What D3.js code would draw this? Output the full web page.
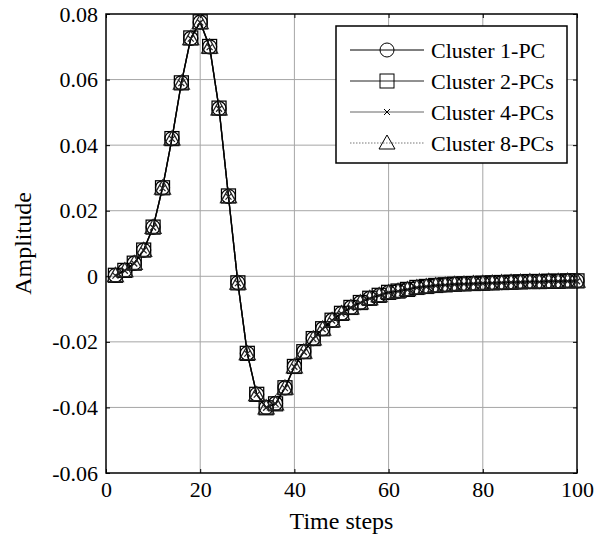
<!DOCTYPE html>
<html>
<head>
<meta charset="utf-8">
<script src="https://cdn.jsdelivr.net/npm/d3@7"></script>
<style>
  body { margin: 0; background: #fff; }
  svg { display: block; font-family: "Liberation Serif", "Times New Roman", serif; }
</style>
</head>
<body>
<div id="chart"></div>
<script>
const width = 608;
const height = 541;
const margin = { top: 14, right: 31, bottom: 68, left: 106 };

const timeSteps = d3.range(2, 101, 2);
const xTicks = [0, 20, 40, 60, 80, 100];
const yTicks = [-0.06, -0.04, -0.02, 0, 0.02, 0.04, 0.06, 0.08];

const cluster1 = [
  0.0003, 0.0018, 0.004, 0.008, 0.015, 0.027, 0.042, 0.059, 0.0726, 0.0775,
  0.070, 0.0512, 0.0244, -0.002, -0.0235, -0.036, -0.040, -0.0388, -0.034, -0.0275,
  -0.023, -0.019, -0.016, -0.0134, -0.0113, -0.0095, -0.008, -0.0067, -0.0058, -0.0049,
  -0.0045, -0.0040, -0.0034, -0.0031, -0.0028, -0.0026, -0.0024, -0.0023, -0.0022, -0.0021,
  -0.0020, -0.0019, -0.0018, -0.0017, -0.0016, -0.0016, -0.0015, -0.0015, -0.0014, -0.0014,
];
const cluster2 = [
  0.0003, 0.0018, 0.004, 0.008, 0.015, 0.027, 0.042, 0.059, 0.0727, 0.0776,
  0.0701, 0.0513, 0.0245, -0.002, -0.0235, -0.036, -0.0401, -0.0389, -0.034, -0.0275,
  -0.023, -0.019, -0.016, -0.0134, -0.0113, -0.0095, -0.008, -0.0067, -0.0058, -0.0049,
  -0.0045, -0.0040, -0.0034, -0.0031, -0.0028, -0.0026, -0.0024, -0.0023, -0.0022, -0.0021,
  -0.0020, -0.0019, -0.0018, -0.0017, -0.0016, -0.0016, -0.0015, -0.0015, -0.0014, -0.0014,
];
const cluster4 = [
  0.0002, 0.0017, 0.0039, 0.0079, 0.0149, 0.0269, 0.0419, 0.0589, 0.0725, 0.0774,
  0.0699, 0.0511, 0.0243, -0.0021, -0.0236, -0.0361, -0.0401, -0.0389, -0.0341, -0.0276,
  -0.0231, -0.0191, -0.0161, -0.0135, -0.0114, -0.0096, -0.0081, -0.0068, -0.0059, -0.0050,
  -0.0046, -0.0041, -0.0035, -0.0032, -0.0029, -0.0027, -0.0025, -0.0024, -0.0023, -0.0022,
  -0.0021, -0.0020, -0.0019, -0.0018, -0.0017, -0.0017, -0.0016, -0.0016, -0.0015, -0.0015,
];
const cluster8 = [
  0.0002, 0.0017, 0.0039, 0.0079, 0.0149, 0.0269, 0.0419, 0.0589, 0.0725, 0.0774,
  0.0699, 0.0511, 0.0243, -0.0021, -0.0236, -0.0361, -0.0401, -0.0389, -0.0341, -0.0276,
  -0.0231, -0.0191, -0.0161, -0.0135, -0.0114, -0.0096, -0.0081, -0.0068, -0.0059, -0.0050,
  -0.0046, -0.0041, -0.0035, -0.0032, -0.0029, -0.0027, -0.0025, -0.0024, -0.0023, -0.0022,
  -0.0021, -0.0020, -0.0019, -0.0018, -0.0017, -0.0017, -0.0016, -0.0016, -0.0015, -0.0015,
];

const seriesNames = ["Cluster 1-PC", "Cluster 2-PCs", "Cluster 4-PCs", "Cluster 8-PCs"];
const seriesValues = [cluster1, cluster2, cluster4, cluster8];
const seriesStyle = [
  { marker: "circle", color: "#000", dash: null },
  { marker: "square", color: "#222", dash: null },
  { marker: "cross", color: "#666", dash: null },
  { marker: "triangle", color: "#777", dash: "1.5,1.5" },
];

const x = d3.scaleLinear().domain([0, 100]).range([margin.left, width - margin.right]);
const y = d3.scaleLinear().domain([-0.06, 0.08]).range([height - margin.bottom, margin.top]);
const fmtY = (d) => (Math.abs(d) < 1e-9 ? "0" : d.toFixed(2));
const fmtX = (d) => String(d);

const svg = d3
  .select("#chart")
  .append("svg")
  .attr("width", width)
  .attr("height", height);

// grid
svg
  .append("g")
  .attr("stroke", "#a6a6a6")
  .attr("stroke-width", 1)
  .selectAll("line")
  .data(xTicks.slice(1, -1))
  .join("line")
  .attr("x1", (d) => x(d))
  .attr("x2", (d) => x(d))
  .attr("y1", y(-0.06))
  .attr("y2", y(0.08));
svg
  .append("g")
  .attr("stroke", "#a6a6a6")
  .attr("stroke-width", 1)
  .selectAll("line")
  .data(yTicks.slice(1, -1))
  .join("line")
  .attr("x1", x(0))
  .attr("x2", x(100))
  .attr("y1", (d) => y(d))
  .attr("y2", (d) => y(d));

// axes with inward ticks
const tickLen = 4;
svg
  .append("g")
  .attr("transform", `translate(0,${y(-0.06)})`)
  .call(d3.axisBottom(x).tickValues(xTicks).tickSize(-tickLen).tickPadding(8).tickFormat(fmtX))
  .call((g) => g.select(".domain").remove())
  .call((g) => g.selectAll("text").attr("font-size", 22).attr("font-family", "Liberation Serif").attr("fill", "#000"));
svg
  .append("g")
  .attr("transform", `translate(${x(0)},0)`)
  .call(d3.axisLeft(y).tickValues(yTicks).tickSize(-tickLen).tickPadding(8).tickFormat(fmtY))
  .call((g) => g.select(".domain").remove())
  .call((g) => g.selectAll("text").attr("font-size", 22).attr("font-family", "Liberation Serif").attr("fill", "#000"));
svg
  .append("g")
  .attr("transform", `translate(0,${y(0.08)})`)
  .call(d3.axisTop(x).tickValues(xTicks).tickSize(-tickLen).tickFormat(""))
  .call((g) => g.select(".domain").remove());
svg
  .append("g")
  .attr("transform", `translate(${x(100)},0)`)
  .call(d3.axisRight(y).tickValues(yTicks).tickSize(-tickLen).tickFormat(""))
  .call((g) => g.select(".domain").remove());

svg
  .append("rect")
  .attr("x", x(0))
  .attr("y", y(0.08))
  .attr("width", x(100) - x(0))
  .attr("height", y(-0.06) - y(0.08))
  .attr("fill", "none")
  .attr("stroke", "#000")
  .attr("stroke-width", 1.5);

function drawMarker(g, type, color, sw) {
  if (type === "circle") {
    g.append("circle").attr("r", 7).attr("fill", "none").attr("stroke", color).attr("stroke-width", sw);
  } else if (type === "square") {
    g.append("rect").attr("x", -7).attr("y", -7).attr("width", 14).attr("height", 14)
      .attr("fill", "none").attr("stroke", color).attr("stroke-width", sw);
  } else if (type === "cross") {
    g.append("path").attr("d", "M-3,-3L3,3M-3,3L3,-3").attr("fill", "none").attr("stroke", color).attr("stroke-width", sw);
  } else if (type === "triangle") {
    g.append("path").attr("d", "M0,-8L8,6L-8,6Z").attr("fill", "none").attr("stroke", color).attr("stroke-width", sw);
  }
}

const line = d3
  .line()
  .x((d, i) => x(timeSteps[i]))
  .y((d) => y(d));

// draw in reverse so Cluster 1-PC sits on top
for (let k = seriesValues.length - 1; k >= 0; k--) {
  const st = seriesStyle[k];
  svg
    .append("path")
    .datum(seriesValues[k])
    .attr("d", line)
    .attr("fill", "none")
    .attr("stroke", st.color)
    .attr("stroke-width", 1.3)
    .attr("stroke-dasharray", st.dash);
}
seriesValues.forEach((vals, k) => {
  const st = seriesStyle[k];
  svg
    .append("g")
    .selectAll("g")
    .data(vals)
    .join("g")
    .attr("transform", (d, i) => `translate(${x(timeSteps[i])},${y(d)})`)
    .each(function () {
      drawMarker(d3.select(this), st.marker, k < 2 ? "#000" : "#222", 1.25);
    });
});

// legend
const legend = svg.append("g").attr("transform", "translate(336,26)");
legend
  .append("rect")
  .attr("width", 231)
  .attr("height", 137)
  .attr("fill", "#fff")
  .attr("stroke", "#000")
  .attr("stroke-width", 1.5);
seriesNames.forEach((name, k) => {
  const st = seriesStyle[k];
  const row = legend.append("g").attr("transform", `translate(0,${24 + k * 31})`);
  row
    .append("line")
    .attr("x1", 14)
    .attr("x2", 88)
    .attr("stroke", st.color)
    .attr("stroke-width", 1)
    .attr("stroke-dasharray", st.dash);
  const m = row.append("g").attr("transform", "translate(51,0)");
  drawMarker(m, st.marker, "#000", 1);
  row
    .append("text")
    .attr("x", 95)
    .attr("dy", "0.35em")
    .attr("font-size", 22)
    .text(name);
});

svg
  .append("text")
  .attr("x", (x(0) + x(100)) / 2)
  .attr("y", 529)
  .attr("text-anchor", "middle")
  .attr("font-size", 24)
  .text("Time steps");
svg
  .append("text")
  .attr("transform", `translate(31,${(y(-0.06) + y(0.08)) / 2}) rotate(-90)`)
  .attr("text-anchor", "middle")
  .attr("font-size", 24)
  .text("Amplitude");
</script>
</body>
</html>
